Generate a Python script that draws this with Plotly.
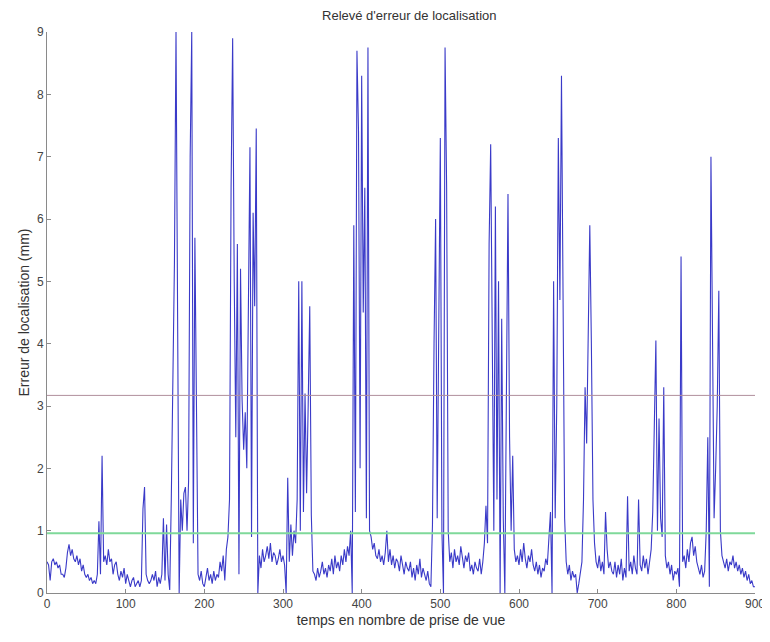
import plotly.graph_objects as go

# Frame index (every 2nd frame)
frames = list(range(0, 901, 2))

erreur = [
    0.5, 0.45, 0.2, 0.5, 0.55, 0.45, 0.5, 0.4, 0.45, 0.3,      # 0-18
    0.3, 0.25, 0.4, 0.65, 0.78, 0.6, 0.7, 0.55, 0.5, 0.6,      # 20-38
    0.45, 0.55, 0.35, 0.45, 0.3, 0.25, 0.3, 0.2, 0.25, 0.15,   # 40-58
    0.2, 0.15, 0.3, 1.15, 0.3, 2.2, 0.5, 0.6, 0.45, 0.7,       # 60-78
    0.5, 0.55, 0.3, 0.45, 0.5, 0.3, 0.2, 0.35, 0.25, 0.4,      # 80-98
    0.15, 0.3, 0.2, 0.1, 0.2, 0.25, 0.1, 0.15, 0.2, 0.1,       # 100-118
    0.2, 1.35, 1.7, 0.3, 0.2, 0.15, 0.2, 0.3, 0.2, 0.35,       # 120-138
    0.1, 0.25, 0.15, 0.3, 1.2, 0.2, 1.1, 0.3, 0.05, 1.5,       # 140-158
    3.5, 5.3, 9.0, 3.9, 0.0, 1.5, 1.0, 1.6, 1.7, 1.0,          # 160-178
    1.8, 7.0, 9.0, 0.8, 5.7, 3.0, 0.3, 0.2, 0.35, 0.15,        # 180-198
    0.1, 0.25, 0.4, 0.2, 0.3, 0.15, 0.35, 0.2, 0.3, 0.25,      # 200-218
    0.5, 0.35, 0.6, 0.2, 0.7, 0.9, 1.5, 6.5, 8.9, 5.0,         # 220-238
    2.5, 5.6, 0.3, 5.2, 3.1, 2.3, 2.9, 2.0, 4.4, 7.15,         # 240-258
    0.9, 6.1, 4.6, 7.45, 0.0, 0.6, 0.4, 0.7, 0.5, 0.6,         # 260-278
    0.75, 0.55, 0.8, 0.5, 0.65, 0.6, 0.45, 0.55, 0.7, 0.5,     # 280-298
    0.6, 0.45, 0.0, 1.85, 0.5, 1.1, 0.6, 1.0, 0.8, 1.5,        # 300-318
    5.0, 1.0, 5.0, 1.3, 3.2, 1.6, 3.0, 4.6, 1.25, 0.35,        # 320-338
    0.3, 0.2, 0.4, 0.25, 0.35, 0.5, 0.3, 0.4, 0.25, 0.45,      # 340-358
    0.35, 0.55, 0.3, 0.6, 0.4, 0.5, 0.35, 0.6, 0.45, 0.7,      # 360-378
    0.5, 0.75, 0.6, 1.0, 0.0, 5.9, 1.3, 8.7, 7.4, 2.0,         # 380-398
    8.3, 4.5, 6.5, 1.2, 8.75, 1.0, 0.9, 0.7, 0.8, 0.6,         # 400-418
    0.55, 0.7, 0.5, 0.6, 0.45, 0.65, 1.0, 0.5, 0.7, 0.45,      # 420-438
    0.6, 0.4, 0.55, 0.5, 0.35, 0.6, 0.45, 0.3, 0.5, 0.4,       # 440-458
    0.35, 0.5, 0.25, 0.4, 0.2, 0.45, 0.3, 0.55, 0.25, 0.4,     # 460-478
    0.3, 0.2, 0.35, 0.15, 0.1, 1.1, 4.0, 6.0, 1.2, 5.0,        # 480-498
    7.3, 1.0, 0.0, 8.75, 6.5, 1.0, 0.5, 0.65, 0.4, 0.7,        # 500-518
    0.5, 0.6, 0.45, 0.75, 0.55, 0.4, 0.6, 0.5, 0.65, 0.35,     # 520-538
    0.45, 0.3, 0.5, 0.4, 0.35, 0.55, 0.3, 0.5, 0.8, 1.4,       # 540-558
    0.8, 5.6, 7.2, 3.8, 1.0, 6.2, 1.5, 5.0, 0.0, 4.4,          # 560-578
    1.2, 0.0, 3.0, 6.4, 2.5, 1.0, 2.2, 0.7, 0.5, 0.6,          # 580-598
    0.45, 0.7, 0.5, 0.8, 0.55, 0.4, 0.6, 0.5, 0.7, 0.45,       # 600-618
    0.35, 0.5, 0.3, 0.45, 0.25, 0.4, 0.35, 0.55, 0.45, 0.9,    # 620-638
    1.3, 0.0, 5.0, 1.2, 3.0, 7.3, 4.7, 8.3, 4.4, 1.2,          # 640-658
    0.5, 0.3, 0.45, 0.2, 0.35, 0.25, 0.3, 0.0, 0.15, 0.3,      # 660-678
    0.5, 1.5, 3.3, 2.4, 4.5, 5.9, 4.0, 1.5, 0.8, 0.5,          # 680-698
    0.4, 0.6, 0.35, 0.5, 0.3, 1.3, 0.7, 0.4, 0.5, 0.35,        # 700-718
    0.3, 0.5, 0.25, 0.45, 0.3, 0.55, 0.2, 0.4, 0.25, 1.55,     # 720-738
    0.35, 0.5, 0.3, 0.6, 0.4, 0.3, 1.5, 0.45, 0.35, 0.6,       # 740-758
    0.4, 0.55, 0.3, 0.5, 0.7, 1.3, 2.5, 4.05, 1.0, 2.8,        # 760-778
    1.2, 0.9, 3.3, 0.6, 0.4, 0.5, 0.3, 0.45, 0.2, 0.35,        # 780-798
    0.3, 0.4, 0.1, 5.4, 0.5, 0.6, 0.4, 0.7, 0.5, 0.8,          # 800-818
    0.9, 0.6, 0.75, 0.5, 0.4, 0.3, 0.45, 0.25, 0.35, 1.0,      # 820-838
    2.5, 0.1, 7.0, 4.3, 1.2, 2.0, 3.0, 4.85, 1.0, 0.6,         # 840-858
    0.5, 0.4, 0.55, 0.35, 0.5, 0.45, 0.6, 0.4, 0.5, 0.35,      # 860-878
    0.45, 0.3, 0.4, 0.25, 0.35, 0.2, 0.3, 0.15, 0.2, 0.1,      # 880-898
    0.1,                                                       # 900
]

seuil_haut = 3.17
seuil_bas = 0.96
x_ticks = [0, 100, 200, 300, 400, 500, 600, 700, 800, 900]
y_ticks = [0, 1, 2, 3, 4, 5, 6, 7, 8, 9]

fig = go.Figure()
fig.add_trace(go.Scatter(x=frames, y=erreur, mode="lines",
                         line=dict(color="#3a3ac8", width=1.1), showlegend=False))
fig.add_trace(go.Scatter(x=[0, 900], y=[seuil_haut, seuil_haut], mode="lines",
                         line=dict(color="#b08e9c", width=1), showlegend=False))
fig.add_trace(go.Scatter(x=[0, 900], y=[seuil_bas, seuil_bas], mode="lines",
                         line=dict(color="#7fd99a", width=2), showlegend=False))

axis_common = dict(showgrid=False, zeroline=False, showline=True, linecolor="#8a8a8a",
                   linewidth=1, ticks="inside", ticklen=4, tickcolor="#8a8a8a",
                   automargin=False,
                   tickfont=dict(family="Liberation Sans, Arial", size=12, color="#444"))

fig.update_layout(
    width=760, height=632,
    margin=dict(l=39, r=13, t=24, b=47),
    paper_bgcolor="white", plot_bgcolor="white",
    title=dict(text="Relevé d'erreur de localisation", x=0.528, xanchor="center",
               y=0.989, yanchor="middle",
               font=dict(family="Liberation Sans, Arial", size=13, color="#333")),
    xaxis=dict(range=[0, 900], tickvals=x_ticks,
               title=dict(text="temps en nombre de prise de vue", standoff=4,
                          font=dict(family="Liberation Sans, Arial", size=14, color="#333")),
               **axis_common),
    yaxis=dict(range=[0, 9], tickvals=y_ticks,
               title=dict(text="Erreur de localisation (mm)", standoff=4,
                          font=dict(family="Liberation Sans, Arial", size=14, color="#333")),
               **axis_common),
)

fig.write_html("out.html")
